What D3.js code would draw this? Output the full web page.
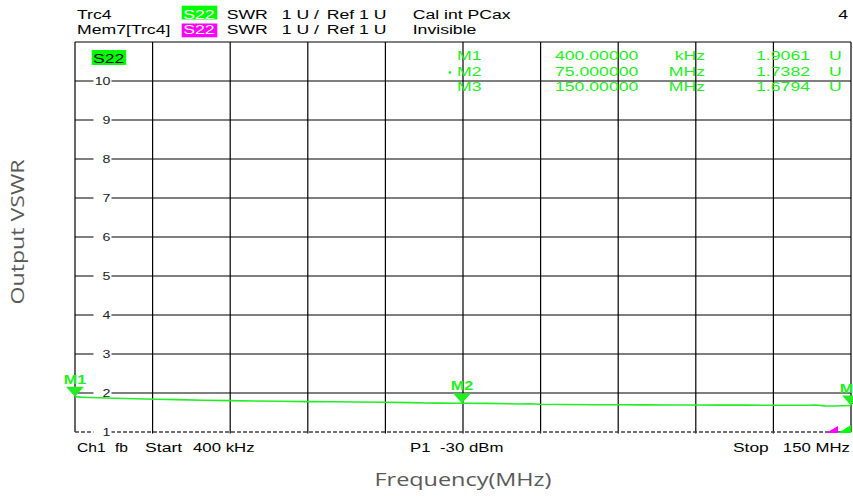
<!DOCTYPE html>
<html><head><meta charset="utf-8">
<script src="https://cdn.jsdelivr.net/npm/d3@7"></script>
<style>html,body{margin:0;padding:0;background:#fff;overflow:hidden}</style>
</head><body>
<svg id="c" width="853" height="498"></svg>
<script>
// ---- data ----
const yTicks = [1, 2, 3, 4, 5, 6, 7, 8, 9, 10];
const yDomain = [1, 11];
const xDomain = [0.4, 150];           // MHz
const xGridCount = 10;
const freqMHz = [0.4, 1.5, 3, 5, 8, 12, 16, 20, 25, 30, 35, 40, 45, 50, 55, 60, 65, 68, 70, 75, 80, 84, 86, 88, 90, 95, 100, 105, 110, 115, 120, 125, 130, 135, 140, 142, 143, 145, 147, 150];
const swr     = [1.906, 1.895, 1.886, 1.878, 1.866, 1.851, 1.839, 1.829, 1.816, 1.804, 1.796, 1.788, 1.780, 1.774, 1.768, 1.762, 1.752, 1.742, 1.740, 1.738, 1.733, 1.726, 1.718, 1.724, 1.712, 1.706, 1.700, 1.697, 1.695, 1.694, 1.692, 1.690, 1.688, 1.687, 1.686, 1.686, 1.692, 1.670, 1.666, 1.679];
const markerNames = ["M1", "M2", "M3"];
const markerFreq  = [0.4, 75, 150];
const markerSwr   = [1.9061, 1.7382, 1.6794];
const markerFreqText = ["400.00000", "75.000000", "150.00000"];
const markerUnits = ["kHz", "MHz", "MHz"];
const headerRow1 = ["Trc4", "S22", "SWR", "1 U /", "Ref 1 U", "Cal int PCax", "4"];
const headerRow2 = ["Mem7[Trc4]", "S22", "SWR", "1 U /", "Ref 1 U", "Invisible"];
const footer = ["Ch1", "fb", "Start", "400 kHz", "P1", "-30 dBm", "Stop", "150 MHz"];
const traceLabel = "S22";
const xTitle = "Frequency(MHz)";
const yTitle = "Output VSWR";

// ---- layout ----
const L = 75, R = 851, T = 42, B = 432;
const GREEN = "#00ff00", TRACE = "#22ee22", MAG = "#ff00ff";
const SX = 1.47;
const svg = d3.select("#c");
const x = d3.scaleLinear().domain(xDomain).range([L, R]);
const y = d3.scaleLinear().domain(yDomain).range([B, T]);

function txt(g, s, px, py, o = {}) {
  return g.append("text")
    .attr("transform", `translate(${px},${py}) scale(${o.sx || SX},1)`)
    .attr("font-family", o.ff || "'Liberation Sans', Arial, sans-serif")
    .attr("font-size", o.fs || 12)
    .attr("fill", o.fill || "#000")
    .attr("font-weight", o.fw || "normal")
    .attr("text-anchor", o.anchor || "start")
    .text(s);
}

// grid
const g = svg.append("g");
const xg = d3.range(xGridCount + 1).map(i => xDomain[0] + i * (xDomain[1] - xDomain[0]) / xGridCount);
g.selectAll("line.v").data(xg).join("line")
  .attr("x1", d => x(d)).attr("x2", d => x(d))
  .attr("y1", T).attr("y2", (d, i) => (i === 0 || i === xGridCount) ? B : B + 1.5)
  .attr("stroke", "#000").attr("stroke-width", 1.2);
g.append("line").attr("x1", L).attr("x2", R).attr("y1", T).attr("y2", T).attr("stroke", "#000").attr("stroke-width", 1.2);
g.selectAll("line.h").data(yTicks.filter(d => d > 1)).join("line")
  .attr("x1", L).attr("x2", R).attr("y1", d => y(d)).attr("y2", d => y(d))
  .attr("stroke", "#000").attr("stroke-width", 1.2);
g.append("line").attr("x1", L).attr("x2", R).attr("y1", y(1)).attr("y2", y(1))
  .attr("stroke", "#444").attr("stroke-width", 1.3).attr("stroke-dasharray", "4,2");
yTicks.forEach(v => {
  g.append("rect").attr("x", 93.5).attr("y", y(v) - 3).attr("width", 18).attr("height", 6).attr("fill", "#fff");
  txt(g, String(v), 110.5, y(v) + 3.5, { fs: 10, sx: 1.42, anchor: "end", fill: "#222" });
});

// S22 label in plot
g.append("rect").attr("x", 91.7).attr("y", 50).attr("width", 34.5).attr("height", 15).attr("fill", GREEN);
txt(g, traceLabel, 93, 63, { fs: 12 });

// trace
const line = d3.line().x((d, i) => x(freqMHz[i])).y(d => y(d));
svg.append("path").datum(swr).attr("d", line).attr("fill", "none").attr("stroke", TRACE).attr("stroke-width", 1.6);

// reference-level indicators at right bottom
svg.append("path").attr("d", `M${x(xDomain[1]) - 25},${y(1) + 1} L${x(xDomain[1]) - 13},${y(1) - 6} L${x(xDomain[1]) - 13},${y(1) + 1}Z`).attr("fill", MAG);
svg.append("path").attr("d", `M${x(xDomain[1]) - 13},${y(1) + 1} L${x(xDomain[1])},${y(1) - 7} L${x(xDomain[1])},${y(1) + 1}Z`).attr("fill", GREEN);

// markers
markerNames.forEach((m, i) => {
  const mx = x(markerFreq[i]), my = y(markerSwr[i]);
  svg.append("path").attr("d", `M${mx - 9},${my - 10} L${mx + 9},${my - 10} L${mx},${my}Z`).attr("fill", TRACE);
  txt(svg, m, mx, my - 13, { fs: 12, fw: "bold", anchor: "middle", fill: TRACE, sx: 1.35 });
});

// marker table
const rowY = [60, 75.5, 91];
markerNames.forEach((m, i) => {
  if (i === 1) txt(svg, "•", 448, rowY[i], { fs: 10, fill: TRACE, sx: 1 });
  txt(svg, m, 457, rowY[i], { fill: TRACE });
  txt(svg, markerFreqText[i], 555, rowY[i], { fill: TRACE });
  txt(svg, markerUnits[i], 705, rowY[i], { fill: TRACE, anchor: "end" });
  txt(svg, markerSwr[i].toFixed(4), 810, rowY[i], { fill: TRACE, anchor: "end" });
  txt(svg, "U", 829, rowY[i], { fill: TRACE });
});

// header
const hy = [18.5, 33.5];
txt(svg, headerRow1[0], 77, hy[0]);
txt(svg, headerRow2[0], 77, hy[1]);
svg.append("rect").attr("x", 181.7).attr("y", 5.7).attr("width", 35.6).attr("height", 13.8).attr("fill", GREEN);
svg.append("rect").attr("x", 181.7).attr("y", 23.5).attr("width", 35.6).attr("height", 13.8).attr("fill", MAG);
[headerRow1, headerRow2].forEach((row, r) => {
  txt(svg, row[1], 183.3, hy[r], { fill: "#fff" });
  txt(svg, row[2], 226.7, hy[r]);
  txt(svg, row[3], 281.7, hy[r]);
  txt(svg, row[4], 326.7, hy[r]);
  txt(svg, row[5], 412.7, hy[r]);
});
txt(svg, headerRow1[6], 848, hy[0], { anchor: "end" });

// footer
const fy = 451.7;
txt(svg, footer[0], 77, fy, { sx: 1.3 });
txt(svg, footer[1], 115, fy, { sx: 1.3 });
txt(svg, footer[2], 145, fy);
txt(svg, footer[3], 193, fy, { sx: 1.4 });
txt(svg, footer[4], 410, fy, { sx: 1.4 });
txt(svg, footer[5], 440, fy, { sx: 1.4 });
txt(svg, footer[6], 733, fy, { sx: 1.45 });
txt(svg, footer[7], 850, fy, { anchor: "end", sx: 1.4 });

// axis titles
svg.append("text").attr("x", 463).attr("y", 486).attr("text-anchor", "middle")
  .attr("font-family", "'Open Sans', sans-serif").attr("font-size", 18).attr("fill", "#595959")
  .attr("textLength", 177).attr("lengthAdjust", "spacingAndGlyphs").text(xTitle);
svg.append("text").attr("transform", "translate(24,232) rotate(-90)").attr("text-anchor", "middle")
  .attr("font-family", "'Open Sans', sans-serif").attr("font-size", 18).attr("fill", "#595959")
  .attr("textLength", 145).attr("lengthAdjust", "spacingAndGlyphs").text(yTitle);
</script>
</body></html>
